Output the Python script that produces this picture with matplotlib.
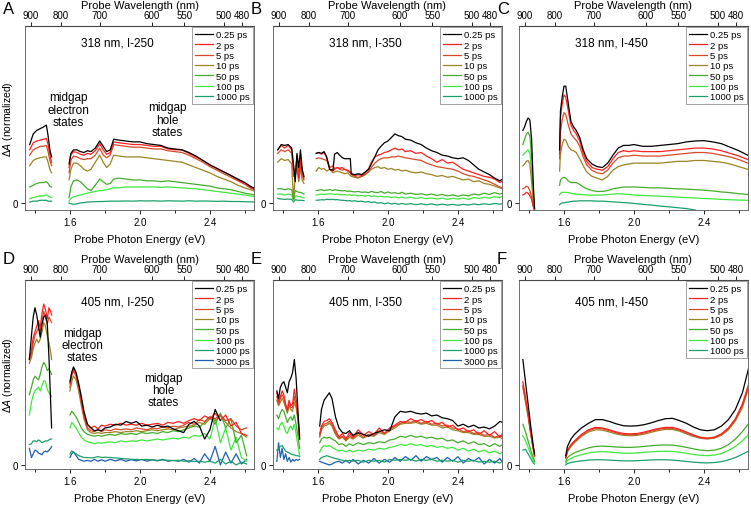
import numpy as np
import matplotlib.pyplot as plt

plt.rcParams['font.family'] = ['Liberation Sans', 'DejaVu Sans']
plt.rcParams['mathtext.fontset'] = 'custom'
plt.rcParams['mathtext.rm'] = 'Liberation Sans'
plt.rcParams['mathtext.it'] = 'Liberation Sans:italic'

nan = np.nan

delays7 = ['0.25 ps', '2 ps', '5 ps', '10 ps', '50 ps', '100 ps', '1000 ps']
delays8 = delays7 + ['3000 ps']
colors = ['#000000', '#ff2020', '#d84a2a', '#9a8424', '#44ac2c', '#3ee83e', '#1aa06c', '#1f5fb0']

wl_ticks = [900, 800, 700, 600, 550, 500, 480]

# ---- panel A : 318 nm, I-250 ----
A_E1 = [1.37, 1.39, 1.41, 1.43, 1.45, 1.465, 1.475, 1.485, 1.495]
A_Y1 = [
    [0.33, 0.39, 0.41, 0.42, 0.43, 0.44, 0.38, 0.30, 0.26],
    [0.30, 0.34, 0.35, 0.355, 0.36, 0.365, 0.33, 0.27, 0.23],
    [0.27, 0.30, 0.31, 0.32, 0.32, 0.325, 0.29, 0.24, 0.21],
    [0.21, 0.24, 0.25, 0.255, 0.26, 0.26, 0.23, 0.19, 0.17],
    [0.09, 0.10, 0.11, 0.115, 0.115, 0.12, 0.11, 0.095, 0.09],
    [0.025, 0.03, 0.035, 0.04, 0.04, 0.045, 0.04, 0.035, 0.03],
    [0.005, 0.01, 0.01, 0.015, 0.015, 0.015, 0.01, 0.01, 0.01],
]
A_E2 = [1.595, 1.605, 1.62, 1.64, 1.66, 1.68, 1.70, 1.72, 1.745, 1.77, 1.79, 1.81,
        1.83, 1.85, 1.88, 1.92, 1.96, 2.00, 2.04, 2.08, 2.12, 2.16, 2.20, 2.24,
        2.28, 2.32, 2.36, 2.40, 2.44, 2.48, 2.52, 2.56, 2.60, 2.63, 2.66]
A_Y2 = [
    [0.22, 0.28, 0.30, 0.30, 0.29, 0.285, 0.295, 0.29, 0.31, 0.35, 0.32, 0.29,
     0.30, 0.36, 0.355, 0.35, 0.345, 0.345, 0.335, 0.33, 0.325, 0.31, 0.305, 0.30,
     0.285, 0.265, 0.24, 0.215, 0.195, 0.175, 0.155, 0.135, 0.115, 0.095, 0.08],
    [0.20, 0.27, 0.29, 0.285, 0.275, 0.27, 0.28, 0.275, 0.295, 0.335, 0.30, 0.275,
     0.285, 0.345, 0.34, 0.335, 0.33, 0.33, 0.325, 0.32, 0.32, 0.305, 0.30, 0.30,
     0.28, 0.26, 0.24, 0.215, 0.195, 0.175, 0.155, 0.13, 0.11, 0.09, 0.075],
    [0.17, 0.24, 0.265, 0.26, 0.25, 0.245, 0.25, 0.25, 0.27, 0.31, 0.27, 0.255,
     0.27, 0.33, 0.325, 0.32, 0.315, 0.315, 0.31, 0.305, 0.305, 0.295, 0.29, 0.285,
     0.27, 0.25, 0.23, 0.205, 0.185, 0.165, 0.145, 0.125, 0.105, 0.085, 0.07],
    [0.13, 0.19, 0.225, 0.225, 0.21, 0.19, 0.18, 0.19, 0.23, 0.27, 0.23, 0.20,
     0.22, 0.27, 0.265, 0.26, 0.26, 0.26, 0.255, 0.25, 0.245, 0.24, 0.235, 0.23,
     0.215, 0.20, 0.185, 0.17, 0.15, 0.135, 0.12, 0.10, 0.085, 0.075, 0.065],
    [0.03, 0.09, 0.125, 0.13, 0.12, 0.10, 0.08, 0.07, 0.10, 0.135, 0.12, 0.105,
     0.11, 0.135, 0.14, 0.135, 0.13, 0.13, 0.125, 0.125, 0.12, 0.125, 0.12, 0.115,
     0.11, 0.105, 0.10, 0.095, 0.085, 0.08, 0.075, 0.065, 0.055, 0.05, 0.045],
    [0.01, 0.025, 0.035, 0.04, 0.045, 0.05, 0.055, 0.06, 0.065, 0.07, 0.07, 0.075,
     0.08, 0.085, 0.085, 0.09, 0.09, 0.09, 0.09, 0.09, 0.088, 0.09, 0.088, 0.085,
     0.082, 0.08, 0.075, 0.07, 0.065, 0.06, 0.055, 0.05, 0.045, 0.04, 0.035],
    [0.0, -0.005, -0.008, -0.005, 0.0, 0.002, 0.005, 0.006, 0.007, 0.008, 0.008, 0.009,
     0.01, 0.01, 0.01, 0.011, 0.01, 0.012, 0.011, 0.012, 0.01, 0.012, 0.011, 0.01,
     0.012, 0.01, 0.011, 0.01, 0.009, 0.01, 0.008, 0.008, 0.007, 0.006, 0.005],
]

# ---- panel B : 318 nm, I-350 ----
B_E1 = [1.37, 1.39, 1.41, 1.43, 1.45, 1.46, 1.47, 1.48, 1.49, 1.50, 1.51, 1.52]
B_Y1 = [
    [0.30, 0.33, 0.325, 0.33, 0.31, 0.22, 0.12, 0.28, 0.20, 0.30, 0.19, 0.15],
    [0.30, 0.325, 0.31, 0.325, 0.30, 0.20, 0.15, 0.27, 0.14, 0.26, 0.17, 0.14],
    [0.28, 0.30, 0.29, 0.30, 0.28, 0.15, 0.18, 0.25, 0.13, 0.22, 0.15, 0.13],
    [0.23, 0.25, 0.24, 0.245, 0.22, 0.02, 0.15, 0.20, 0.12, 0.20, 0.13, 0.11],
    [0.08, 0.08, 0.075, 0.08, 0.075, 0.02, 0.07, 0.065, 0.06, 0.06, 0.055, 0.05],
    [0.05, 0.05, 0.045, 0.05, 0.045, 0.01, 0.04, 0.04, 0.035, 0.035, 0.03, 0.03],
    [0.025, 0.022, 0.02, 0.022, 0.02, 0.005, 0.018, 0.016, 0.015, 0.015, 0.014, 0.013],
]
B_E2 = [1.59, 1.605, 1.62, 1.635, 1.65, 1.667, 1.686, 1.695, 1.71, 1.724,
        1.74, 1.752, 1.77, 1.785, 1.79, 1.81, 1.83, 1.85, 1.87, 1.89,
        1.905, 1.925, 1.943, 1.96, 1.98, 2.0, 2.02, 2.04, 2.06, 2.08,
        2.10, 2.13, 2.16, 2.19, 2.22, 2.25, 2.28, 2.31, 2.34, 2.37,
        2.40, 2.43, 2.46, 2.49, 2.52, 2.55, 2.58, 2.61, 2.64, 2.655]
B_Y2 = [
    [0.28, 0.285, 0.28, 0.29, 0.26, 0.19, 0.185, 0.275, 0.285, 0.27,
     0.255, 0.25, 0.25, 0.25, 0.165, 0.16, 0.165, 0.16, 0.175, 0.19,
     0.22, 0.26, 0.30, 0.32, 0.34, 0.35, 0.37, 0.39, 0.38, 0.375,
     0.36, 0.355, 0.34, 0.33, 0.31, 0.295, 0.285, 0.27, 0.265, 0.255,
     0.25, 0.255, 0.24, 0.215, 0.19, 0.175, 0.16, 0.14, 0.125, 0.135],
    [0.28, 0.285, 0.275, 0.285, 0.255, 0.19, 0.18, 0.19, 0.20, 0.195,
     0.20, 0.19, 0.185, 0.175, 0.165, 0.155, 0.16, 0.155, 0.17, 0.195,
     0.23, 0.26, 0.27, 0.275, 0.285, 0.29, 0.30, 0.31, 0.30, 0.305,
     0.29, 0.295, 0.28, 0.285, 0.265, 0.25, 0.23, 0.245, 0.225, 0.23,
     0.21, 0.19, 0.18, 0.17, 0.16, 0.15, 0.145, 0.135, 0.115, 0.125],
    [0.25, 0.255, 0.25, 0.245, 0.24, 0.20, 0.21, 0.195, 0.2, 0.19,
     0.185, 0.19, 0.18, 0.17, 0.16, 0.15, 0.145, 0.15, 0.16, 0.18,
     0.20, 0.225, 0.24, 0.25, 0.255, 0.255, 0.26, 0.26, 0.265, 0.26,
     0.255, 0.25, 0.245, 0.24, 0.225, 0.215, 0.205, 0.2, 0.195, 0.19,
     0.18, 0.165, 0.155, 0.15, 0.14, 0.13, 0.12, 0.105, 0.09, 0.085],
    [0.18, 0.2, 0.19, 0.195, 0.18, 0.19, 0.17, 0.175, 0.18, 0.175,
     0.17, 0.165, 0.17, 0.155, 0.15, 0.145, 0.14, 0.15, 0.16, 0.175,
     0.19, 0.2, 0.205, 0.195, 0.2, 0.19, 0.195, 0.185, 0.19, 0.18,
     0.185, 0.175, 0.17, 0.175, 0.165, 0.16, 0.15, 0.155, 0.145, 0.15,
     0.14, 0.13, 0.135, 0.12, 0.125, 0.11, 0.105, 0.095, 0.085, 0.08],
    [0.07, 0.072, 0.075, 0.07, 0.072, 0.075, 0.07, 0.075, 0.072, 0.07,
     0.068, 0.07, 0.065, 0.067, 0.065, 0.062, 0.065, 0.06, 0.062, 0.058,
     0.065, 0.06, 0.058, 0.065, 0.055, 0.062, 0.055, 0.058, 0.052, 0.06,
     0.05, 0.055, 0.048, 0.052, 0.045, 0.05, 0.042, 0.048, 0.04, 0.045,
     0.038, 0.045, 0.04, 0.05, 0.045, 0.055, 0.048, 0.058, 0.05, 0.055],
    [0.045, 0.047, 0.05, 0.048, 0.05, 0.052, 0.05, 0.048, 0.05, 0.047,
     0.045, 0.047, 0.044, 0.046, 0.043, 0.045, 0.04, 0.043, 0.038, 0.042,
     0.036, 0.04, 0.035, 0.038, 0.033, 0.036, 0.03, 0.034, 0.028, 0.033,
     0.027, 0.032, 0.025, 0.03, 0.024, 0.028, 0.022, 0.027, 0.02, 0.026,
     0.022, 0.027, 0.02, 0.03, 0.025, 0.032, 0.027, 0.035, 0.03, 0.035],
    [0.015, 0.016, 0.018, 0.017, 0.02, 0.019, 0.02, 0.018, 0.019, 0.016,
     0.015, 0.014, 0.012, 0.013, 0.01, 0.012, 0.008, 0.01, 0.005, 0.008,
     0.002, 0.005, -0.002, 0.002, -0.005, 0.0, -0.006, -0.002, -0.008, -0.003,
     -0.008, -0.004, -0.01, -0.005, -0.01, -0.006, -0.012, -0.007, -0.012, -0.008,
     -0.013, -0.008, -0.012, -0.006, -0.01, -0.005, -0.009, -0.003, -0.007, -0.004],
]

# ---- panel C : 318 nm, I-450 ----
C_E1 = [1.365, 1.375, 1.385, 1.395, 1.405, 1.415, 1.425, 1.432]
C_Y1 = [
    [0.41, 0.43, 0.46, 0.48, 0.47, 0.36, 0.10, -0.03],
    [0.045, 0.05, 0.06, 0.055, 0.04, 0.02, -0.02, -0.04],
    [0.08, 0.085, 0.095, 0.09, 0.07, 0.03, -0.02, -0.04],
    [0.21, 0.22, 0.235, 0.24, 0.22, 0.12, 0.0, -0.04],
    [0.33, 0.36, 0.39, 0.40, 0.38, 0.26, 0.05, -0.04],
    [0.27, 0.28, 0.29, 0.30, 0.28, 0.18, 0.03, -0.04],
    None,
]
C_E2 = [1.575, 1.58, 1.59, 1.60, 1.61, 1.625, 1.64, 1.655, 1.67, 1.69, 1.71, 1.73,
        1.76, 1.79, 1.82, 1.85, 1.88, 1.91, 1.94, 1.97, 2.0, 2.05, 2.1, 2.15,
        2.2, 2.25, 2.3, 2.35, 2.4, 2.45, 2.5, 2.55, 2.6, 2.65]
C_Y2 = [
    [0.30, 0.52, 0.60, 0.66, 0.66, 0.56, 0.46, 0.43, 0.41, 0.37, 0.30, 0.25,
     0.22, 0.205, 0.20, 0.225, 0.27, 0.31, 0.325, 0.325, 0.33, 0.32, 0.32, 0.325,
     0.33, 0.335, 0.345, 0.35, 0.352, 0.345, 0.335, 0.315, 0.295, 0.27],
    [0.28, 0.48, 0.56, 0.61, 0.60, 0.52, 0.44, 0.41, 0.39, 0.35, 0.28, 0.235,
     0.20, 0.19, 0.185, 0.205, 0.25, 0.285, 0.295, 0.29, 0.295, 0.29, 0.29, 0.29,
     0.295, 0.30, 0.305, 0.31, 0.31, 0.305, 0.295, 0.28, 0.265, 0.245],
    [0.25, 0.40, 0.47, 0.51, 0.50, 0.44, 0.39, 0.37, 0.355, 0.32, 0.26, 0.215,
     0.185, 0.17, 0.165, 0.185, 0.225, 0.255, 0.265, 0.265, 0.27, 0.265, 0.265, 0.265,
     0.27, 0.275, 0.28, 0.285, 0.285, 0.28, 0.27, 0.26, 0.245, 0.225],
    [0.18, 0.28, 0.33, 0.36, 0.355, 0.32, 0.30, 0.295, 0.285, 0.25, 0.21, 0.175,
     0.15, 0.14, 0.13, 0.15, 0.185, 0.205, 0.215, 0.22, 0.225, 0.225, 0.225, 0.225,
     0.23, 0.235, 0.235, 0.24, 0.24, 0.235, 0.23, 0.22, 0.205, 0.19],
    [0.10, 0.13, 0.14, 0.145, 0.14, 0.125, 0.115, 0.115, 0.115, 0.105, 0.09, 0.08,
     0.07, 0.065, 0.065, 0.07, 0.08, 0.085, 0.09, 0.09, 0.09, 0.088, 0.085, 0.085,
     0.082, 0.08, 0.078, 0.075, 0.072, 0.068, 0.062, 0.058, 0.052, 0.048],
    [0.045, 0.055, 0.06, 0.06, 0.06, 0.058, 0.055, 0.052, 0.05, 0.048, 0.046, 0.045,
     0.044, 0.044, 0.045, 0.047, 0.05, 0.052, 0.05, 0.048, 0.045, 0.042, 0.04, 0.038,
     0.035, 0.033, 0.03, 0.028, 0.025, 0.023, 0.02, 0.018, 0.016, 0.015],
    [-0.01, -0.005, 0.0, 0.0, 0.003, 0.005, 0.008, 0.01, 0.01, 0.012, 0.012, 0.012,
     0.012, 0.01, 0.01, 0.008, 0.006, 0.004, 0.002, 0.0, -0.003, -0.008, -0.012, -0.018,
     -0.022, -0.027, -0.032, -0.04, nan, nan, nan, nan, nan, nan],
]

# ---- panel D : 405 nm, I-250 ----
D_E1 = [1.368, 1.38, 1.39, 1.40, 1.41, 1.42, 1.43, 1.44, 1.45, 1.46, 1.47, 1.48, 1.49, 1.495]
D_Y1 = [
    [0.57, 0.70, 0.80, 0.85, 0.81, 0.75, 0.69, 0.76, 0.80, 0.81, 0.77, 0.58, 0.33, 0.20],
    [0.58, 0.62, 0.69, 0.72, 0.75, 0.78, 0.74, 0.82, 0.87, 0.84, 0.79, 0.85, 0.83, 0.81],
    [0.57, 0.60, 0.66, 0.70, 0.72, 0.74, 0.72, 0.78, 0.83, 0.80, 0.76, 0.80, 0.78, 0.77],
    [0.55, 0.58, 0.63, 0.66, 0.68, 0.66, 0.68, 0.72, 0.77, 0.75, 0.70, 0.66, 0.61, 0.57],
    [0.38, 0.42, 0.46, 0.48, 0.47, 0.46, 0.49, 0.53, 0.555, 0.54, 0.51, 0.52, 0.50, 0.49],
    [0.27, 0.34, 0.38, 0.40, 0.41, 0.42, 0.40, 0.43, 0.455, 0.45, 0.41, 0.39, 0.38, 0.37],
    [0.11, 0.115, 0.13, 0.13, 0.125, 0.135, 0.13, 0.12, 0.125, 0.13, 0.13, 0.135, 0.14, 0.14],
    [0.09, 0.04, 0.06, 0.08, 0.075, 0.065, 0.06, 0.055, 0.07, 0.075, 0.07, 0.08, 0.09, 0.10],
]
D_E2 = [1.60, 1.61, 1.62, 1.635, 1.65, 1.665, 1.68, 1.70, 1.72, 1.74,
        1.76, 1.78, 1.80, 1.83, 1.86, 1.89, 1.92, 1.95, 1.98, 2.01,
        2.04, 2.07, 2.10, 2.13, 2.16, 2.19, 2.22, 2.25, 2.28, 2.31,
        2.34, 2.37, 2.40, 2.43, 2.46, 2.49, 2.52, 2.55, 2.58, 2.61]
D_Y2 = [
    [0.45, 0.50, 0.53, 0.50, 0.44, 0.37, 0.29, 0.22, 0.20, 0.185,
     0.19, 0.185, 0.20, 0.205, 0.22, 0.215, 0.235, 0.225, 0.235, 0.21,
     0.215, 0.205, 0.215, 0.205, 0.21, 0.195, 0.185, 0.175, 0.22, 0.235,
     0.21, 0.14, 0.19, 0.30, 0.24, nan, nan, nan, nan, nan],
    [0.44, 0.50, 0.52, 0.49, 0.43, 0.35, 0.27, 0.215, 0.20, 0.21,
     0.195, 0.215, 0.21, 0.22, 0.215, 0.225, 0.215, 0.22, 0.215, 0.225,
     0.215, 0.22, 0.225, 0.215, 0.23, 0.225, 0.235, 0.225, 0.24, 0.25,
     0.24, 0.265, 0.25, 0.28, 0.24, 0.27, 0.21, 0.23, 0.17, 0.16],
    [0.42, 0.48, 0.51, 0.48, 0.42, 0.34, 0.26, 0.20, 0.185, 0.18,
     0.19, 0.18, 0.19, 0.185, 0.195, 0.19, 0.195, 0.19, 0.2, 0.195,
     0.19, 0.2, 0.195, 0.205, 0.2, 0.21, 0.205, 0.215, 0.23, 0.22,
     0.245, 0.235, 0.26, 0.25, 0.27, 0.24, 0.25, 0.21, 0.19, 0.2],
    [0.40, 0.45, 0.48, 0.46, 0.40, 0.32, 0.25, 0.19, 0.175, 0.17,
     0.175, 0.17, 0.175, 0.175, 0.18, 0.175, 0.18, 0.18, 0.185, 0.18,
     0.185, 0.19, 0.185, 0.19, 0.195, 0.19, 0.2, 0.205, 0.21, 0.215,
     0.23, 0.22, 0.25, 0.24, 0.265, 0.23, 0.2, 0.18, 0.17, 0.15],
    [0.27, 0.29, 0.28, 0.26, 0.23, 0.2, 0.18, 0.165, 0.16, 0.155,
     0.16, 0.155, 0.16, 0.165, 0.16, 0.17, 0.165, 0.17, 0.165, 0.175,
     0.17, 0.175, 0.17, 0.18, 0.175, 0.185, 0.18, 0.19, 0.2, 0.21,
     0.205, 0.23, 0.26, 0.22, 0.28, 0.2, 0.25, 0.12, 0.16, 0.05],
    [0.2, 0.23, 0.22, 0.2, 0.175, 0.15, 0.135, 0.125, 0.12, 0.115,
     0.12, 0.118, 0.12, 0.125, 0.12, 0.13, 0.125, 0.13, 0.128, 0.135,
     0.13, 0.135, 0.14, 0.135, 0.14, 0.145, 0.14, 0.15, 0.145, 0.16,
     0.155, 0.17, 0.14, 0.25, 0.12, 0.2, 0.08, 0.15, 0.04, 0.02],
    [0.06, 0.075, 0.07, 0.06, 0.05, 0.045, 0.04, 0.04, 0.038, 0.04,
     0.045, 0.04, 0.042, 0.04, 0.038, 0.035, 0.033, 0.03, 0.03, 0.028,
     0.03, 0.027, 0.025, 0.027, 0.025, 0.023, 0.025, 0.02, 0.022, 0.018,
     0.02, 0.015, 0.02, 0.01, 0.03, 0.005, 0.02, 0.0, 0.015, 0.005],
    [0.04, 0.06, 0.07, 0.05, 0.03, 0.025, 0.02, 0.025, 0.02, 0.03,
     0.02, 0.028, 0.02, 0.03, 0.022, 0.03, 0.02, 0.028, 0.022, 0.03,
     0.02, 0.028, 0.022, 0.03, 0.02, 0.025, 0.02, 0.03, 0.015, 0.035,
     0.01, 0.06, 0.02, 0.1, 0.0, 0.07, 0.01, 0.06, 0.005, 0.03],
]

# ---- panel E : 405 nm, I-350 ----
E_E1 = [1.365, 1.375, 1.385, 1.395, 1.405, 1.415, 1.425, 1.435, 1.445, 1.455, 1.465, 1.475, 1.485, 1.495]
E_Y1 = [
    [0.40, 0.36, 0.42, 0.44, 0.45, 0.42, 0.39, 0.45, 0.47, 0.50, 0.57, 0.47, 0.30, 0.14],
    [0.39, 0.34, 0.37, 0.40, 0.38, 0.33, 0.30, 0.35, 0.32, 0.33, 0.41, 0.35, 0.27, 0.16],
    [0.37, 0.33, 0.36, 0.38, 0.36, 0.32, 0.29, 0.33, 0.31, 0.31, 0.37, 0.33, 0.26, 0.15],
    [0.35, 0.32, 0.34, 0.36, 0.34, 0.31, 0.28, 0.32, 0.30, 0.29, 0.34, 0.31, 0.25, 0.14],
    [0.27, 0.25, 0.28, 0.30, 0.29, 0.26, 0.23, 0.25, 0.26, 0.24, 0.27, 0.22, 0.16, 0.09],
    [0.20, 0.19, 0.22, 0.23, 0.21, 0.18, 0.17, 0.20, 0.21, 0.19, 0.22, 0.17, 0.11, 0.05],
    [0.08, 0.09, 0.10, 0.105, 0.09, 0.075, 0.07, 0.065, 0.06, 0.055, 0.055, 0.05, 0.05, 0.045],
    [0.02, 0.12, 0.04, 0.09, 0.03, 0.06, 0.02, 0.04, 0.015, 0.03, 0.02, 0.03, 0.025, 0.03],
]
E_E2 = [1.61, 1.62, 1.635, 1.65, 1.665, 1.68, 1.70, 1.72, 1.74, 1.76,
        1.78, 1.80, 1.83, 1.86, 1.89, 1.92, 1.95, 1.98, 2.01, 2.04,
        2.07, 2.10, 2.13, 2.16, 2.19, 2.22, 2.25, 2.28, 2.31, 2.34,
        2.37, 2.40, 2.43, 2.46, 2.49, 2.52, 2.55, 2.58, 2.61, 2.64, 2.655]
E_Y2 = [
    [0.21, 0.30, 0.35, 0.37, 0.39, 0.36, 0.26, 0.20, 0.175, 0.17,
     0.185, 0.16, 0.175, 0.165, 0.155, 0.17, 0.18, 0.19, 0.185, 0.26,
     0.29, 0.285, 0.29, 0.28, 0.275, 0.28, 0.265, 0.27, 0.255, 0.25,
     0.24, 0.21, 0.22, 0.205, 0.215, 0.20, 0.205, 0.195, 0.21, 0.235, 0.23],
    [0.17, 0.21, 0.235, 0.24, 0.25, 0.23, 0.19, 0.15, 0.17, 0.14,
     0.175, 0.15, 0.19, 0.16, 0.18, 0.165, 0.2, 0.17, 0.2, 0.215,
     0.235, 0.23, 0.25, 0.235, 0.245, 0.23, 0.24, 0.22, 0.23, 0.205,
     0.215, 0.19, 0.2, 0.18, 0.19, 0.165, 0.185, 0.16, 0.18, 0.15, 0.17],
    [0.16, 0.2, 0.22, 0.225, 0.235, 0.22, 0.175, 0.145, 0.155, 0.135,
     0.16, 0.145, 0.17, 0.15, 0.165, 0.16, 0.185, 0.17, 0.19, 0.21,
     0.225, 0.235, 0.23, 0.24, 0.225, 0.235, 0.22, 0.225, 0.21, 0.215,
     0.2, 0.195, 0.18, 0.185, 0.17, 0.175, 0.16, 0.165, 0.15, 0.16, 0.15],
    [0.15, 0.19, 0.21, 0.215, 0.225, 0.21, 0.165, 0.14, 0.15, 0.13,
     0.15, 0.14, 0.16, 0.145, 0.16, 0.155, 0.175, 0.165, 0.185, 0.2,
     0.22, 0.225, 0.225, 0.23, 0.22, 0.225, 0.215, 0.215, 0.2, 0.205,
     0.19, 0.185, 0.175, 0.175, 0.165, 0.165, 0.155, 0.155, 0.145, 0.15, 0.14],
    [0.12, 0.14, 0.15, 0.145, 0.15, 0.14, 0.13, 0.11, 0.115, 0.1,
     0.115, 0.105, 0.12, 0.11, 0.12, 0.115, 0.125, 0.12, 0.135, 0.14,
     0.155, 0.15, 0.16, 0.15, 0.155, 0.145, 0.15, 0.14, 0.145, 0.13,
     0.135, 0.12, 0.13, 0.115, 0.125, 0.11, 0.115, 0.1, 0.115, 0.1, 0.11],
    [0.07, 0.09, 0.105, 0.1, 0.105, 0.095, 0.085, 0.075, 0.08, 0.07,
     0.08, 0.07, 0.08, 0.075, 0.085, 0.08, 0.09, 0.085, 0.095, 0.1,
     0.11, 0.105, 0.115, 0.105, 0.11, 0.1, 0.105, 0.095, 0.1, 0.09,
     0.095, 0.08, 0.09, 0.075, 0.085, 0.07, 0.08, 0.065, 0.075, 0.06, 0.07],
    [0.03, 0.04, 0.045, 0.05, 0.045, 0.04, 0.035, 0.03, 0.025, 0.02,
     0.025, 0.02, 0.025, 0.015, 0.025, 0.02, 0.025, 0.015, 0.03, 0.025,
     0.03, 0.025, 0.03, 0.02, 0.03, 0.025, 0.03, 0.02, 0.025, 0.02,
     0.025, 0.015, 0.025, 0.02, 0.025, 0.015, 0.02, 0.015, 0.02, 0.01, 0.02],
    [0.02, 0.015, 0.01, 0.005, 0.0, 0.005, 0.015, 0.02, 0.01, 0.025,
     0.01, 0.03, 0.005, 0.025, 0.01, 0.035, 0.01, 0.03, 0.015, 0.04,
     0.02, 0.045, 0.025, 0.05, 0.02, 0.045, 0.03, 0.04, 0.015, 0.04,
     0.02, 0.045, 0.01, 0.035, 0.02, 0.04, 0.005, 0.03, 0.01, 0.035, 0.015],
]

# ---- panel F : 405 nm, I-450 ----
F_E1 = [1.365, 1.38, 1.395, 1.41, 1.425, 1.432]
F_Y1 = [
    [0.57, 0.45, 0.33, 0.21, 0.10, 0.06],
    [0.45, 0.37, 0.28, 0.18, 0.09, 0.05],
    [0.43, 0.35, 0.27, 0.17, 0.085, 0.05],
    [0.42, 0.34, 0.26, 0.165, 0.08, 0.045],
    [0.22, 0.18, 0.13, 0.08, 0.04, 0.02],
    [0.16, 0.13, 0.095, 0.06, 0.025, 0.01],
    [0.08, 0.085, 0.06, 0.035, 0.01, 0.005],
]
F_E2 = [1.61, 1.62, 1.64, 1.66, 1.70, 1.74, 1.78, 1.82, 1.86, 1.90,
        1.94, 1.98, 2.02, 2.06, 2.10, 2.14, 2.18, 2.22, 2.26, 2.30,
        2.34, 2.38, 2.42, 2.46, 2.50, 2.54, 2.58, 2.62, 2.66]
F_Y2 = [
    [0.05, 0.10, 0.14, 0.165, 0.20, 0.225, 0.245, 0.245, 0.235, 0.222,
     0.212, 0.21, 0.212, 0.218, 0.228, 0.24, 0.25, 0.252, 0.24, 0.225,
     0.205, 0.19, 0.185, 0.19, 0.21, 0.245, 0.30, 0.39, 0.54],
    [0.04, 0.08, 0.11, 0.13, 0.165, 0.19, 0.203, 0.20, 0.19, 0.178,
     0.17, 0.168, 0.17, 0.178, 0.188, 0.197, 0.203, 0.203, 0.193, 0.178,
     0.162, 0.15, 0.145, 0.15, 0.168, 0.20, 0.25, 0.33, 0.45],
    [0.04, 0.075, 0.105, 0.125, 0.16, 0.185, 0.198, 0.195, 0.185, 0.173,
     0.165, 0.163, 0.165, 0.173, 0.183, 0.192, 0.198, 0.198, 0.188, 0.173,
     0.158, 0.147, 0.143, 0.148, 0.165, 0.195, 0.245, 0.32, 0.44],
    [0.035, 0.07, 0.10, 0.12, 0.155, 0.178, 0.19, 0.188, 0.178, 0.167,
     0.16, 0.158, 0.16, 0.167, 0.177, 0.186, 0.192, 0.192, 0.183, 0.168,
     0.154, 0.144, 0.14, 0.145, 0.16, 0.19, 0.238, 0.31, 0.43],
    [0.02, 0.04, 0.055, 0.065, 0.08, 0.092, 0.1, 0.102, 0.1, 0.097,
     0.095, 0.095, 0.097, 0.1, 0.104, 0.107, 0.108, 0.107, 0.102, 0.095,
     0.087, 0.08, 0.077, 0.08, 0.09, 0.11, 0.14, 0.18, 0.23],
    [0.01, 0.025, 0.035, 0.045, 0.055, 0.065, 0.07, 0.072, 0.07, 0.066,
     0.064, 0.063, 0.065, 0.068, 0.071, 0.073, 0.074, 0.073, 0.069, 0.063,
     0.057, 0.052, 0.05, 0.053, 0.062, 0.078, 0.1, 0.13, 0.17],
    [0.0, 0.008, 0.013, 0.017, 0.022, 0.026, 0.028, 0.028, 0.026, 0.024,
     0.022, 0.022, 0.023, 0.025, 0.027, 0.028, 0.028, 0.026, 0.023, 0.019,
     0.015, 0.012, 0.011, 0.013, 0.018, 0.027, 0.04, 0.058, 0.077],
]

W, H = 751, 506
fig = plt.figure(figsize=(W / 100, H / 100), dpi=100)

cols = [25, 273, 519]
rows = [(27, 211, -0.04), (281, 470, -0.022)]

panels = [
    ('A', '318 nm, I-250', A_E1, A_Y1, A_E2, A_Y2, delays7, 0, 0),
    ('B', '318 nm, I-350', B_E1, B_Y1, B_E2, B_Y2, delays7, 0, 1),
    ('C', '318 nm, I-450', C_E1, C_Y1, C_E2, C_Y2, delays7, 0, 2),
    ('D', '405 nm, I-250', D_E1, D_Y1, D_E2, D_Y2, delays8, 1, 0),
    ('E', '405 nm, I-350', E_E1, E_Y1, E_E2, E_Y2, delays8, 1, 1),
    ('F', '405 nm, I-450', F_E1, F_Y1, F_E2, F_Y2, delays7, 1, 2),
]

for letter, title, e1, y1, e2, y2, labels, r, c in panels:
    top, bot, ylo = rows[r]
    left = cols[c]
    ax = fig.add_axes([left / W, (H - bot) / H, 229 / W, (bot - top) / H])
    for i, lab in enumerate(labels):
        seg1 = y1[i] if y1[i] is not None else [nan] * len(e1)
        x = list(e1) + [nan] + list(e2)
        y = list(seg1) + [nan] + list(y2[i])
        ax.plot(x, y, color=colors[i], lw=0.9, label=lab, zorder=10 - i)
    ax.set_xlim(1.343, 2.652)
    ax.set_ylim(ylo, 1.0)
    ax.set_xticks([1.6, 2.0, 2.4])
    ax.set_xticks([1.4, 1.8, 2.2, 2.6], minor=True)
    ax.set_yticks([0])
    ax.tick_params(axis='both', labelsize=7, length=3, width=0.6, pad=2)
    ax.tick_params(axis='x', which='minor', length=2, width=0.6)
    for s in ax.spines.values():
        s.set_linewidth(0.6)
        s.set_color('#555555')
    ax.set_xlabel('Probe Photon Energy (eV)', fontsize=8, labelpad=5)
    if c == 0:
        ax.set_ylabel(r'$\Delta A$ (normalized)', fontsize=7.5)
        ax.yaxis.set_label_coords(-0.042, 0.5)

    top_ax = ax.secondary_xaxis('top', functions=(lambda v: 1239.84 / np.clip(v, 0.1, None),
                                                  lambda v: 1239.84 / np.clip(v, 0.1, None)))
    top_ax.set_xticks(wl_ticks)
    top_ax.set_xticklabels([str(w) for w in wl_ticks])
    top_ax.tick_params(labelsize=7, length=3, width=0.6, pad=1)
    top_ax.set_xlabel('Probe Wavelength (nm)', fontsize=8, labelpad=2)

    ax.text(0.405, 0.91 if r == 0 else 0.885, title, transform=ax.transAxes,
            ha='center', va='center', fontsize=8.5)
    leg = ax.legend(loc='upper right', fontsize=6.8, frameon=True, fancybox=False,
                    edgecolor='#777777', borderaxespad=0.15, labelspacing=0.14,
                    handlelength=1.9, handletextpad=0.3, borderpad=0.3)
    leg.get_frame().set_linewidth(0.6)
    leg.set_zorder(20)

    fig.text((left - 22) / W, 1 - (top - 25) / H if r == 0 else 1 - (top - 29) / H,
             letter, fontsize=12, ha='left', va='top')

    if letter == 'A':
        ax.text(0.188, 0.545, 'midgap\nelectron\nstates', transform=ax.transAxes,
                ha='center', va='center', fontsize=8.5, linespacing=1.05)
        ax.text(0.62, 0.49, 'midgap\nhole\nstates', transform=ax.transAxes,
                ha='center', va='center', fontsize=8.5, linespacing=1.05)
    if letter == 'D':
        ax.text(0.249, 0.656, 'midgap\nelectron\nstates', transform=ax.transAxes,
                ha='center', va='center', fontsize=8.5, linespacing=1.05)
        ax.text(0.603, 0.418, 'midgap\nhole\nstates', transform=ax.transAxes,
                ha='center', va='center', fontsize=8.5, linespacing=1.05)

fig.savefig('out.png', dpi=100)
